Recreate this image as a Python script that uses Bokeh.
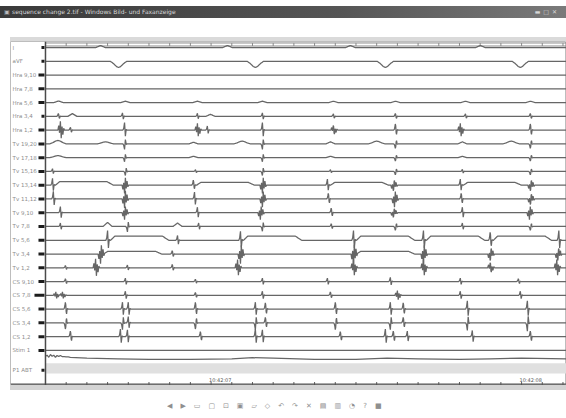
import numpy as np
from bokeh.plotting import figure
from bokeh.models import Range1d, Div, ColumnDataSource, Span, BoxAnnotation
from bokeh.layouts import column
from bokeh.embed import file_html
from bokeh.resources import INLINE
from bokeh.core.properties import value

# ---------------- data (times in ms, amplitudes in channel-spacing units, + = up)
labels = ["I", "aVF", "Hra 9,10", "Hra 7,8", "Hra 5,6", "Hra 3,4", "Hra 1,2",
          "Tv 19,20", "Tv 17,18", "Tv 15,16", "Tv 13,14", "Tv 11,12", "Tv 9,10",
          "Tv 7,8", "Tv 5,6", "Tv 3,4", "Tv 1,2",
          "CS 9,10", "CS 7,8", "CS 5,6", "CS 3,4", "CS 1,2", "Stim 1", "P1 ABT"]

time_ticks = list(range(0, 2600, 100))
time_label_pos = [800, 2300]
time_labels = ["10:42:07", "10:42:08"]

ev_I = [(266, 0.15, "B"), (879, 0.15, "B"), (1473, 0.15, "B"), (2101, 0.15, "B")]
ev_aVF = [(353, -0.45, "W"), (1014, -0.45, "W"), (1642, -0.45, "W"), (2294, -0.45, "W")]
ev_Hra910 = []
ev_Hra78 = []
ev_Hra56 = [(63, 0.12, "B"), (386, 0.1, "B"), (734, 0.1, "B"), (1048, 0.1, "B"),
            (1391, 0.1, "B"), (1691, 0.1, "B"), (2029, 0.1, "B"), (2343, 0.1, "B")]
ev_Hra34 = [(63, 0.25, "S"), (130, 0.2, "B"), (372, 0.25, "S"), (734, 0.22, "S"),
            (797, 0.15, "B"), (1048, 0.25, "S"), (1391, 0.22, "S"), (1691, 0.25, "S"),
            (2029, 0.22, "S"), (2343, 0.25, "S")]
ev_Hra12 = [(72, 0.65, "F"), (121, 0.25, "S"), (382, 0.55, "S"), (734, 0.5, "F"),
            (782, 0.3, "S"), (1048, 0.55, "S"), (1391, 0.5, "F"), (1691, 0.55, "S"),
            (2004, 0.5, "F"), (2343, 0.55, "S")]
ev_Tv1920 = [(60, 0.25, "W"), (290, 0.15, "W"), (382, -0.4, "S"), (715, 0.12, "B"),
             (950, 0.2, "W"), (1048, -0.4, "S"), (1377, 0.15, "B"), (1600, 0.2, "W"),
             (1691, -0.4, "S"), (2014, 0.15, "B"), (2250, 0.2, "W"), (2343, -0.4, "S")]
ev_Tv1718 = [(60, 0.15, "W"), (382, -0.3, "S"), (715, 0.1, "B"), (1048, -0.3, "S"),
             (1377, 0.1, "B"), (1691, -0.3, "S"), (2014, 0.1, "B"), (2343, -0.3, "S")]
ev_Tv1516 = [(34, 0.2, "S"), (386, -0.3, "S"), (725, 0.15, "S"), (1048, -0.3, "S"),
             (1377, 0.15, "S"), (1691, -0.3, "S"), (2014, 0.15, "S"), (2343, -0.3, "S")]
ev_Tv1314 = [(34, 0.5, "S"), (48, 0.25, "P"), (382, -0.6, "F"), (715, 0.45, "S"),
             (730, 0.2, "P"), (1048, -0.6, "F"), (1362, 0.45, "S"), (1377, 0.2, "P"),
             (1681, -0.6, "F"), (2004, 0.45, "S"), (2019, 0.2, "P"), (2343, -0.6, "F")]
ev_Tv1112 = [(38, 0.55, "S"), (382, -0.65, "F"), (720, 0.5, "S"), (1048, -0.6, "F"),
             (1367, 0.5, "S"), (1686, -0.6, "F"), (2009, 0.5, "S"), (2343, -0.6, "F")]
ev_Tv910 = [(72, 0.45, "S"), (382, -0.5, "F"), (734, 0.4, "S"), (1038, -0.5, "F"),
            (1381, 0.4, "S"), (1681, -0.5, "F"), (2014, 0.4, "S"), (2338, -0.5, "F")]
ev_Tv78 = [(72, 0.25, "S"), (300, 0.3, "B"), (396, -0.4, "S"), (638, 0.25, "B"),
           (740, 0.25, "S"), (1048, -0.35, "S"), (1381, 0.25, "S"), (1691, -0.35, "S"),
           (2014, 0.25, "S"), (2343, -0.35, "S")]
ev_Tv56 = [(300, 0.7, "S"), (315, 0.3, "P"), (638, 0.35, "S"), (942, 0.65, "S"),
           (957, 0.3, "P"), (1488, 0.7, "S"), (1503, 0.3, "P"), (1826, 0.7, "S"),
           (1841, 0.3, "P"), (2149, 0.7, "S"), (2164, 0.3, "P"), (2480, 0.7, "S")]
ev_Tv34 = [(266, -0.7, "F"), (281, 0.2, "P"), (613, 0.3, "S"), (942, -0.7, "F"),
           (1488, -0.75, "F"), (1503, 0.2, "P"), (1826, -0.7, "F"), (2149, -0.7, "F"),
           (2475, -0.7, "F")]
ev_Tv12 = [(97, 0.2, "S"), (242, 0.65, "F"), (396, 0.2, "S"), (613, 0.3, "S"),
           (928, 0.6, "F"), (1488, 0.6, "F"), (1826, 0.6, "F"), (2149, 0.55, "F"),
           (2470, 0.6, "F")]
ev_CS910 = [(97, 0.25, "S"), (386, 0.25, "S"), (725, 0.2, "S"), (1048, 0.25, "S"),
            (1362, 0.25, "S"), (1666, 0.3, "S"), (2004, 0.25, "S"), (2285, 0.25, "S")]
ev_CS78 = [(50, 0.25, "F"), (82, 0.25, "F"), (386, 0.3, "S"), (725, 0.25, "S"),
           (1048, 0.3, "S"), (1377, 0.3, "S"), (1700, 0.35, "F"), (2004, 0.3, "S"),
           (2294, 0.3, "S")]
ev_CS56 = [(97, 0.6, "S"), (372, 0.5, "S"), (400, 0.5, "S"), (725, 0.6, "S"),
           (1014, 0.5, "S"), (1063, 0.55, "S"), (1401, 0.6, "S"), (1666, 0.5, "S"),
           (1729, 0.55, "S"), (2038, 0.6, "S"), (2328, 0.6, "S")]
ev_CS34 = [(97, -0.55, "S"), (372, -0.5, "S"), (400, 0.45, "S"), (725, -0.55, "S"),
           (1014, -0.5, "S"), (1063, 0.5, "S"), (1401, -0.6, "S"), (1666, -0.5, "S"),
           (1729, 0.5, "S"), (2038, -0.55, "S"), (2328, -0.6, "S")]
ev_CS12 = [(121, 0.5, "S"), (362, 0.55, "S"), (396, 0.5, "S"), (749, 0.45, "S"),
           (1014, 0.55, "S"), (1048, 0.5, "S"), (1425, 0.45, "S"), (1642, 0.55, "S"),
           (1681, 0.5, "S"), (1748, 0.4, "S"), (2062, 0.45, "S"), (2343, 0.5, "S")]
ev_Stim1 = []

p1_t = [0, 8, 16, 24, 32, 40, 48, 56, 64, 72, 80, 90, 100, 110, 120, 200, 350, 500,
        700, 900, 1000, 1100, 1300, 1500, 1650, 1800, 2000, 2150, 2300, 2520]
p1_v = [1.02, 1.1, 0.95, 1.15, 1.02, 1.1, 0.95, 1.08, 1.0, 1.08, 1.0, 1.0, 0.98, 0.98,
        0.95, 0.88, 0.84, 0.8, 0.8, 0.84, 0.92, 0.88, 0.8, 0.8, 0.88, 0.84, 0.8, 0.84,
        0.88, 0.84]

channel_events = [ev_I, ev_aVF, ev_Hra910, ev_Hra78, ev_Hra56, ev_Hra34, ev_Hra12,
                  ev_Tv1920, ev_Tv1718, ev_Tv1516, ev_Tv1314, ev_Tv1112, ev_Tv910,
                  ev_Tv78, ev_Tv56, ev_Tv34, ev_Tv12,
                  ev_CS910, ev_CS78, ev_CS56, ev_CS34, ev_CS12, ev_Stim1]

# ---------------- waveform shapes (style)
tpl = {
    "B": ([-22, -11, 0, 11, 22], [0, 0.5, 1, 0.5, 0]),
    "W": ([-40, -25, -10, 0, 10, 25, 40], [0, 0.35, 0.85, 1, 0.85, 0.35, 0]),
    "S": ([-8, -4, 0, 4, 8, 12], [0, 0.25, 1, -0.8, 0.1, 0]),
    "F": ([-12, -8, -4, 0, 4, 8, 12, 16, 20], [0, 0.5, -0.3, 1, -0.9, 0.4, -0.5, 0.2, 0]),
    "P": ([0, 20, 250, 280], [0, 1, 1, 0]),
}

T_START, T_END = -169, 2517
Y_TOP, Y_BOT = -0.437, 24.55
ROW_GAP_LAST = 23.45
offsets = [float(i) for i in range(23)] + [ROW_GAP_LAST]
marker_w = [3, 3, 6, 6, 6, 3, 6, 6, 6, 6, 6, 6, 6, 6, 6, 6, 6, 6, 10, 6, 6, 6, 6, 3]

t = np.arange(0, T_END + 1, 2.0)
xs, ys = [], []
for i, ev in enumerate(channel_events):
    y = np.zeros_like(t)
    for te, a, k in ev:
        tt, vv = tpl[k]
        y += a * np.interp(t - te, tt, vv, left=0, right=0)
    xs.append(t.tolist())
    ys.append((offsets[i] - y).tolist())
xs.append(p1_t)
ys.append([offsets[23] - v for v in p1_v])

p = figure(width=558, height=344, x_range=Range1d(T_START, T_END),
           y_range=Range1d(Y_BOT, Y_TOP), output_backend="svg",
           toolbar_location=None, min_border_left=2, min_border_right=0,
           min_border_top=0, min_border_bottom=0, margin=(0, 0, 0, 8))
p.grid.visible = False
p.axis.visible = False
p.outline_line_color = "#bdbdbd"
p.background_fill_color = "white"

# P1 band
p.add_layout(BoxAnnotation(left=0, top=22.94, bottom=23.67, fill_color="#e0e0e0",
                           fill_alpha=1, line_color=None, level="underlay"))

# top time ruler and bottom time axis
n = len(time_ticks)
p.segment(x0=[0, 0], x1=[T_END, T_END], y0=[-0.33, -0.11], y1=[-0.33, -0.11],
          line_color="#8a8a8a", line_width=1)
p.segment(x0=time_ticks, x1=time_ticks, y0=[-0.33] * n, y1=[-0.11] * n,
          line_color="#8a8a8a", line_width=1)
p.add_layout(Span(location=24.45, dimension="width", line_color="#555555",
                  line_width=1.2))
p.segment(x0=time_ticks, x1=time_ticks, y0=[24.3] * n, y1=[24.55] * n,
          line_color="#555555", line_width=1)

src = ColumnDataSource(dict(xs=xs, ys=ys))
p.multi_line(xs="xs", ys="ys", source=src, line_color="#666666", line_width=1.25)

# channel axis line, markers and labels
p.add_layout(Span(location=0, dimension="height", line_color="#4a4a4a", line_width=1.5))
px_per_ms = 556 / (T_END - T_START)
mx = [(-1 - w / 2) / px_per_ms for w in marker_w]
p.rect(x=mx, y=offsets, width=marker_w, height=[3] * 24, width_units="screen",
       height_units="screen", fill_color="#1c1c1c", line_color=None)
p.text(x=[T_START + 10] * 24, y=offsets, text=labels, text_font_size="5.5px",
       text_color="#8c8c8c", text_baseline="middle", text_align="left",
       text_font=value("DejaVu Sans"))
p.text(x=[v - 10 for v in time_label_pos], y=[24.38, 24.38], text=time_labels,
       text_font_size="5px", text_color="#555555", text_baseline="bottom",
       text_align="left", text_font=value("DejaVu Sans"))

gap0 = Div(text="", width=566, height=6, margin=0)
title_div = Div(
    text='<div style="position:relative;width:566px;height:12px;">'
         '<span style="position:absolute;left:4px;color:#bbbbbb;">&#9635;</span>'
         '<span style="position:absolute;left:12px;">sequence change 2.tif - '
         'Windows Bild- und Faxanzeige</span>'
         '<span style="position:absolute;right:6px;letter-spacing:3px;">'
         '&#9644;&#9633;&#10005;</span></div>',
    width=566, height=12, margin=0,
    styles={"background": "linear-gradient(to right,#3a3a3a,#555555 60%,#7a7a7a)",
            "color": "#d8d8d8", "font-size": "6px", "line-height": "12px",
            "font-family": "DejaVu Sans", "overflow": "hidden"})
gap1 = Div(text="", width=566, height=19, margin=0)
strip = Div(text="", width=556, height=4, margin=(0, 0, 0, 10),
            styles={"background": "#dadada"})
band = Div(text="", width=556, height=5, margin=(0, 0, 0, 10),
           styles={"background": "#d4d4d4"})
gap2 = Div(text="", width=566, height=12, margin=0)
icons = Div(text="&#9664;&#9654;&#9645;&#9634;&#8865;&#9635;&#9649;&#9671;"
                 "&#8630;&#8631;&#10005;&#9636;&#9637;&#9684;?&#9632;",
            width=399, height=9, margin=(0, 0, 0, 167),
            styles={"color": "#8f8f8f", "font-size": "7px", "line-height": "9px",
                    "font-family": "DejaVu Sans", "overflow": "hidden",
                    "white-space": "nowrap", "letter-spacing": "8px"})

layout = column(gap0, title_div, gap1, strip, p, band, gap2, icons, spacing=0)
open("out.html", "w").write(file_html(layout, INLINE))
